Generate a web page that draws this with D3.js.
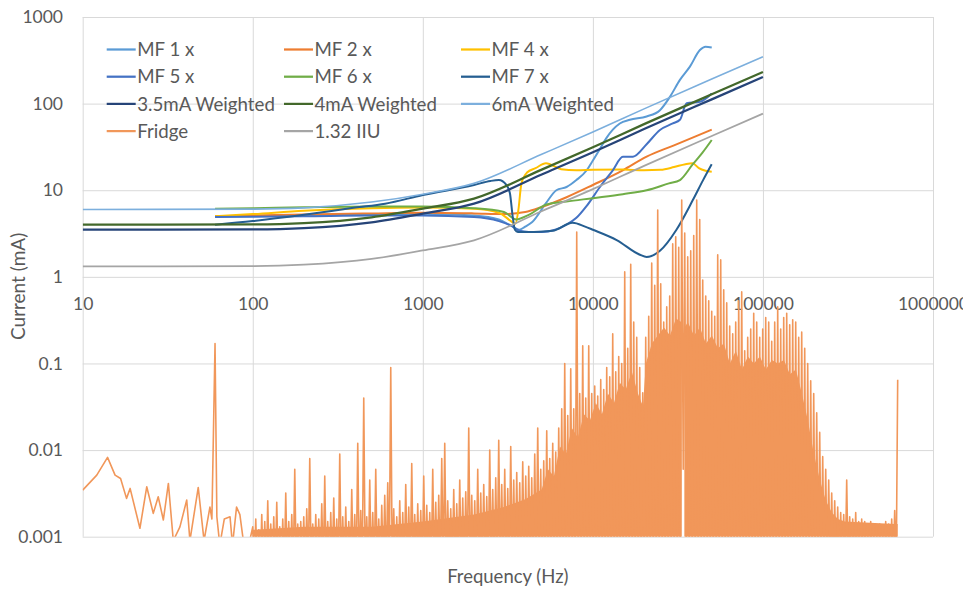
<!DOCTYPE html>
<html>
<head>
<meta charset="utf-8">
<script src="https://cdn.jsdelivr.net/npm/d3@7"></script>
<style>
  body { margin: 0; background: #fff; }
  svg { display: block; }
  text { font-family: Lato, "Open Sans", sans-serif; fill: #595959; }
</style>
</head>
<body>
<svg id="chart" width="963" height="589"></svg>
<script>
// ---- axis ticks ----
const xTickValues = [10, 100, 1000, 10000, 100000, 1000000];
const xTickLabels = ["10", "100", "1000", "10000", "100000", "1000000"];
const yTickValues = [0.001, 0.01, 0.1, 1, 10, 100, 1000];
const yTickLabels = ["0.001", "0.01", "0.1", "1", "10", "100", "1000"];

// ---- weighted limit curves (Hz, mA) ----
const weightedFreq = [10, 100, 200, 500, 1000, 2000, 5000, 10000, 20000, 50000, 100000];
const weighted35 = [3.5, 3.53, 3.65, 4.26, 5.37, 7.0, 15.2, 27.4, 50.8, 112, 203];
const weighted4 = [4.0, 4.03, 4.17, 4.87, 6.13, 8.0, 17.3, 31.3, 58, 128, 232];
const weighted6 = [6.0, 6.05, 6.25, 7.3, 9.0, 12.0, 26, 47, 87, 192, 348];
const iiu132 = [1.32, 1.33, 1.38, 1.61, 2.02, 2.64, 5.72, 10.3, 19.1, 42.2, 76.6];

// ---- measured MF curves ----
const mf1Freq = [60, 100, 200, 500, 1000, 2000, 2800, 3300, 3700, 4000, 4400, 5300, 6100, 7000, 8000, 9200, 10000, 11000, 12000, 13100, 14400, 16500, 20700, 24800, 28400, 32500, 37200, 42600, 46000, 50000];
const mf1Current = [5.0, 5.05, 5.15, 5.3, 5.35, 5.1, 4.6, 3.9, 3.5, 3.8, 4.3, 7.1, 10, 10.9, 13.1, 17, 22, 30, 40, 50, 59, 65, 71, 84, 120, 188, 267, 415, 454, 445];

const mf2Freq = [60, 100, 200, 500, 1000, 2000, 3000, 4000, 5000, 7000, 10000, 15000, 20700, 30000, 50000];
const mf2Current = [5.0, 5.1, 5.25, 5.4, 5.5, 5.4, 5.3, 5.6, 6.4, 8.3, 11.5, 17, 24.4, 33, 50];

const mf4Freq = [60, 100, 200, 500, 1000, 2000, 2800, 3300, 3500, 3650, 3800, 4100, 4600, 5300, 6500, 8000, 10000, 15000, 20000, 25000, 30000, 35000, 38500, 42000, 46000, 50000];
const mf4Current = [5.0, 5.3, 5.8, 6.2, 6.3, 6.1, 5.5, 4.4, 4.1, 6.0, 12, 16, 18, 20.5, 17.5, 17, 17.2, 17.3, 17, 17.2, 18.5, 20, 20.5, 18, 16.8, 16.3];

const mf5Freq = [60, 100, 200, 500, 1000, 2000, 2800, 3300, 3700, 4200, 5000, 6000, 7000, 8000, 9200, 11000, 13100, 15000, 17200, 20700, 24800, 29500, 32500, 35600, 42600, 50000];
const mf5Current = [4.9, 4.95, 5.0, 5.1, 5.1, 4.9, 4.4, 3.9, 3.4, 3.3, 3.3, 3.5, 4.0, 4.8, 6.6, 10.9, 17, 24.3, 24.4, 34, 49.6, 59, 65, 101, 105, 131];

const mf6Freq = [60, 100, 200, 500, 1000, 2000, 3000, 3550, 4200, 5300, 7000, 10000, 15000, 20700, 28000, 32500, 38700, 44000, 50000];
const mf6Current = [6.1, 6.2, 6.35, 6.5, 6.5, 6.2, 5.6, 4.6, 5.2, 6.8, 7.4, 8.1, 9.0, 10, 12, 13.1, 20, 27, 38];

const mf7Freq = [60, 100, 200, 400, 600, 1000, 2000, 2500, 2800, 3100, 3250, 3380, 3480, 3620, 4500, 5800, 7600, 9000, 10000, 13800, 18900, 20700, 24800, 31000, 38700, 44400, 50000];
const mf7Current = [4.0, 4.4, 5.2, 6.3, 7.0, 8.8, 11.5, 12.8, 13.1, 11.5, 9.3, 4.9, 3.5, 3.3, 3.3, 3.4, 4.2, 3.8, 3.5, 2.66, 1.8, 1.7, 2.0, 3.5, 7.7, 13, 20];

// ---- fridge leakage spectrum ----
// low-frequency part, point by point
const fridgeLowFreq = [10, 12.1, 14, 15.5, 16.7, 18.1, 19, 21.7, 23.8, 26, 27.8, 29.8, 31.9, 34.1, 37.3, 40.9, 42.7, 47.8, 51.7, 56, 57.5, 60, 61.5, 64, 68, 73.5, 76, 80.3, 84, 88, 96];
const fridgeLowCurrent = [0.00345, 0.00514, 0.00824, 0.00514, 0.0047, 0.00277, 0.00361, 0.00125, 0.00377, 0.00186, 0.00289, 0.00156, 0.00412, 0.0009, 0.0013, 0.00265, 0.0009, 0.0037, 0.0009, 0.0022, 0.0016, 0.17, 0.0017, 0.0008, 0.0016, 0.0017, 0.0008, 0.0022, 0.0018, 0.0009, 0.0009];
// dense part: peak readings on an even log-frequency grid, with the spectrum
// dropping below the 0.001 floor between neighbouring peaks
const fridgeBandStart = 100;
const fridgeBandEnd = 620000;
const fridgePeaks = [
  0.0013, 0.0016, 0.0012, 0.0018, 0.0015, 0.0026, 0.0014, 0.0017, 0.0025, 0.0013,
  0.0016, 0.0032, 0.0015, 0.0018, 0.0060, 0.0014, 0.0015, 0.0017, 0.0021, 0.0080,
  0.0014, 0.0018, 0.0016, 0.0024, 0.0050, 0.0015, 0.0019, 0.0028, 0.0016, 0.0090,
  0.0017, 0.0022, 0.0015, 0.0035, 0.0018, 0.012, 0.0020, 0.040, 0.0017, 0.0045,
  0.0019, 0.0060, 0.0016, 0.0023, 0.0030, 0.0042, 0.090, 0.0021, 0.0017, 0.0026,
  0.0019, 0.0040, 0.0022, 0.0070, 0.0018, 0.0024, 0.0020, 0.0050, 0.0023, 0.0019,
  0.0060, 0.0025, 0.0030, 0.0080, 0.012, 0.0026, 0.0021, 0.0035, 0.0024, 0.0045,
  0.0028, 0.0033, 0.018, 0.0030, 0.0026, 0.0060, 0.0032, 0.0040, 0.0029, 0.010,
  0.0035, 0.0048, 0.013, 0.0040, 0.0060, 0.0036, 0.011, 0.0045, 0.0055, 0.0042,
  0.0073, 0.0050, 0.0065, 0.0048, 0.0090, 0.018, 0.0060, 0.0075, 0.0167, 0.0080,
  0.012, 0.0095, 0.018, 0.030, 0.10, 0.025, 0.087, 0.030, 3.3, 0.045,
  0.16, 0.040, 0.16, 0.045, 0.055, 0.042, 0.065, 0.05, 0.09, 0.07,
  0.22, 0.08, 0.12, 0.10, 1.14, 0.15, 1.4, 0.3, 0.2, 0.09,
  0.046, 0.2, 0.35, 1.44, 0.8, 5.9, 0.83, 0.3, 0.45, 0.6,
  2.4, 2.9, 2.2, 7.7, 3.2, 1.7, 2.0, 3.0, 7.7, 4.6,
  0.92, 0.6, 0.53, 0.4, 0.35, 1.8, 1.57, 0.71, 0.5, 0.27,
  0.22, 0.3, 0.53, 0.67, 0.14, 0.2, 0.25, 0.38, 0.3, 0.2,
  0.25, 0.34, 0.3, 0.18, 0.3, 0.45, 0.25, 0.34, 0.38, 0.28,
  0.32, 0.3, 0.2, 0.23, 0.15, 0.1, 0.063, 0.045, 0.027, 0.016,
  0.0084, 0.006, 0.0045, 0.0032, 0.0026, 0.0022, 0.0019, 0.0018, 0.0045, 0.0017,
  0.0016, 0.0019, 0.0015, 0.0016, 0.0015, 0.0014, 0.0015, 0.0014, 0.0013, 0.0014,
  0.0013, 0.0015, 0.0014, 0.0016, 0.0020, 0.065
];
const fridgeTroughCurrent = 0.0004;
const fridgeRaisedTroughFreq = [34000];
const fridgeRaisedTroughCurrent = [0.006];
// level up to which the dense spectrum is solid (null = open slit)
const fridgeFloorFreq = [
  100, 200, 500, 1000, 2000, 3000, 4000, 5000, 5440, 5900,
  6400, 6940, 7520, 8160, 8860, 9600, 10400, 11300, 12250, 13300,
  14400, 15600, 16950, 18400, 19700, 20500, 22200, 24100, 26200, 28400,
  30800, 33300, 33500, 34500, 36200, 39300, 42600, 46200, 50100, 54300,
  58900, 63900, 69300, 75200, 81600, 88400, 95900, 104000, 112800, 122400,
  132800, 144000, 156200, 169400, 183700, 199300, 216100, 234400, 254200, 275800,
  303200, 600000, 620000
];
const fridgeFloorCurrent = [
  0.0012, 0.0013, 0.0013, 0.0015, 0.0018, 0.0022, 0.0027, 0.0035, 0.006, 0.005,
  0.011, 0.009, 0.018, 0.014, 0.026, 0.022, 0.035, 0.026, 0.045, 0.035,
  0.06, 0.05, 0.08, 0.045, 0.032, 0.1, 0.17, 0.21, 0.26, 0.21,
  0.33, 0.3, null, 0.26, 0.3, 0.21, 0.26, 0.17, 0.21, 0.15,
  0.17, 0.1, 0.14, 0.085, 0.12, 0.1, 0.12, 0.085, 0.11, 0.1,
  0.11, 0.075, 0.085, 0.045, 0.022, 0.009, 0.0045, 0.0026, 0.0019, 0.0016,
  0.0015, 0.0014, 0.0014
];

// ---- build the fridge point list ----
function buildFridge() {
  const pts = fridgeLowFreq.map((f, i) => [f, fridgeLowCurrent[i]]);
  const n = fridgePeaks.length;
  const step = Math.log10(fridgeBandEnd / fridgeBandStart) / (n - 1);
  const troughs = new Array(n - 1).fill(fridgeTroughCurrent);
  fridgeRaisedTroughFreq.forEach((f, k) => {
    const idx = Math.round(Math.log10(f / fridgeBandStart) / step - 0.5);
    if (idx >= 0 && idx < n - 1) troughs[idx] = fridgeRaisedTroughCurrent[k];
  });
  for (let i = 0; i < n; i++) {
    pts.push([fridgeBandStart * Math.pow(10, i * step), fridgePeaks[i]]);
    if (i < n - 1) pts.push([fridgeBandStart * Math.pow(10, (i + 0.5) * step), troughs[i]]);
  }
  return pts;
}
const zip = (fs, vs) => fs.map((f, i) => [f, vs[i]]);

// series in drawing / legend order
const series = [
  { name: "MF 1 x", points: zip(mf1Freq, mf1Current), color: "#5B9BD5", width: 2, smooth: true },
  { name: "MF 2 x", points: zip(mf2Freq, mf2Current), color: "#ED7D31", width: 2, smooth: true },
  { name: "MF 4 x", points: zip(mf4Freq, mf4Current), color: "#FFC000", width: 2, smooth: true },
  { name: "MF 5 x", points: zip(mf5Freq, mf5Current), color: "#4472C4", width: 2, smooth: true },
  { name: "MF 6 x", points: zip(mf6Freq, mf6Current), color: "#70AD47", width: 2, smooth: true },
  { name: "MF 7 x", points: zip(mf7Freq, mf7Current), color: "#255E91", width: 2, smooth: true },
  { name: "3.5mA Weighted", points: zip(weightedFreq, weighted35), color: "#264478", width: 2.25, smooth: true },
  { name: "4mA Weighted", points: zip(weightedFreq, weighted4), color: "#43682B", width: 2.25, smooth: true },
  { name: "6mA Weighted", points: zip(weightedFreq, weighted6), color: "#7CAFDD", width: 1.6, smooth: true },
  { name: "Fridge", points: buildFridge(), floor: zip(fridgeFloorFreq, fridgeFloorCurrent), color: "#F1975A", width: 1.6, smooth: false },
  { name: "1.32 IIU", points: zip(weightedFreq, iiu132), color: "#A5A5A5", width: 1.75, smooth: true }
];

// ---- layout ----
const plot = { left: 82.7, right: 933, top: 17, bottom: 536.7 };
const svg = d3.select("#chart");

const x = d3.scaleLog().domain([10, 1000000]).range([plot.left, plot.right]);
const y = d3.scaleLog().domain([0.001, 1000]).range([plot.bottom, plot.top]);

// gridlines
svg.append("g")
  .attr("transform", `translate(0,${plot.bottom})`)
  .call(d3.axisBottom(x).tickValues(xTickValues).tickSize(-(plot.bottom - plot.top)).tickFormat(""))
  .call(g => g.select(".domain").remove())
  .call(g => g.selectAll("line").attr("stroke", "#D9D9D9").attr("stroke-width", 1));
svg.append("g")
  .attr("transform", `translate(${plot.left},0)`)
  .call(d3.axisLeft(y).tickValues(yTickValues).tickSize(-(plot.right - plot.left)).tickFormat(""))
  .call(g => g.select(".domain").remove())
  .call(g => g.selectAll("line").attr("stroke", "#D9D9D9").attr("stroke-width", 1));

// tick labels
svg.append("g")
  .attr("transform", `translate(0,${y(1)})`)
  .call(d3.axisBottom(x).tickValues(xTickValues).tickSize(0).tickPadding(21)
    .tickFormat((d, i) => xTickLabels[i]))
  .call(g => g.select(".domain").remove())
  .attr("font-size", 17.5).attr("font-family", "Lato");
svg.append("g")
  .attr("transform", `translate(${plot.left},0)`)
  .call(d3.axisLeft(y).tickValues(yTickValues).tickSize(0).tickPadding(19.7)
    .tickFormat((d, i) => yTickLabels[i]))
  .call(g => g.select(".domain").remove())
  .attr("font-size", 17.5).attr("font-family", "Lato");

// axis titles
svg.append("text")
  .attr("x", (plot.left + plot.right) / 2).attr("y", 583)
  .attr("text-anchor", "middle").attr("font-size", 18.5)
  .text("Frequency (Hz)");
svg.append("text")
  .attr("transform", "translate(25,340) rotate(-90)")
  .attr("text-anchor", "start").attr("font-size", 19)
  .text("Current (mA)");

// series
svg.append("clipPath").attr("id", "plot-clip")
  .append("rect")
  .attr("x", plot.left).attr("y", plot.top - 2)
  .attr("width", plot.right - plot.left).attr("height", plot.bottom - plot.top + 2);

const lineSmooth = d3.line().x(d => x(d[0])).y(d => y(d[1])).curve(d3.curveMonotoneX);
const lineStraight = d3.line().x(d => x(d[0])).y(d => y(d[1]));
const floorArea = d3.area()
  .defined(d => d[1] != null)
  .x(d => x(d[0])).y0(plot.bottom).y1(d => y(d[1]));

const lines = svg.append("g").attr("clip-path", "url(#plot-clip)");
series.forEach(s => {
  if (s.floor) {
    lines.append("path")
      .datum(s.floor)
      .attr("fill", s.color)
      .attr("stroke", "none")
      .attr("d", floorArea);
  }
  lines.append("path")
    .datum(s.points)
    .attr("fill", "none")
    .attr("stroke", s.color)
    .attr("stroke-width", s.width)
    .attr("stroke-linejoin", "round")
    .attr("d", s.smooth ? lineSmooth : lineStraight);
});

// legend
const legendCols = [106.7, 284, 461];
const legendRow0 = 49.5, legendRowStep = 27.2;
const legend = svg.append("g");
series.forEach((s, i) => {
  const lx = legendCols[i % 3];
  const ly = legendRow0 + legendRowStep * Math.floor(i / 3);
  legend.append("line")
    .attr("x1", lx).attr("x2", lx + 29).attr("y1", ly).attr("y2", ly)
    .attr("stroke", s.color).attr("stroke-width", 2.25);
  legend.append("text")
    .attr("x", lx + 30.5).attr("y", ly).attr("dy", "0.36em")
    .attr("font-size", 18.7)
    .text(s.name);
});
</script>
</body>
</html>
